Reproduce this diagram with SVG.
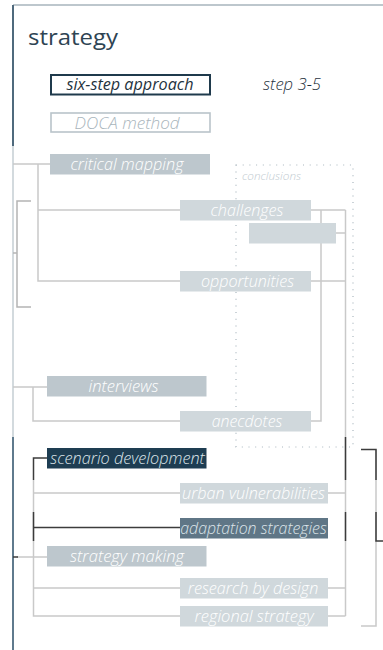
<svg xmlns="http://www.w3.org/2000/svg" width="383" height="650" viewBox="0 0 383 650">
  <style>
    text { font-family: "Open Sans", "Noto Sans", "DejaVu Sans", sans-serif; font-style: italic; font-weight: 300; }
    .title { font-style: normal; font-size: 22px; fill: #2e4453; font-weight: 400; }
    .lbl { font-size: 16px; fill: #ffffff; text-anchor: middle; }
    .lbl-dark { font-size: 16px; fill: #1f3340; text-anchor: middle; font-weight: 400; }
    .lbl-muted { font-size: 16px; fill: #a9b5bc; text-anchor: middle; }
    .lbl-navy { font-size: 16px; fill: #dde5ea; text-anchor: middle; }
    .note { font-size: 11.5px; fill: #c2cbd1; }
    .box-a { fill: #bdc7cd; }
    .box-b { fill: #d0d8dc; }
    .ln { fill: none; stroke: #c9c9c9; stroke-width: 1.5; }
    .ln-mid { fill: none; stroke: #b4b4b4; stroke-width: 1.5; }
    .ln-dark { fill: none; stroke: #3c3c3c; stroke-width: 1.5; }
    .dots { fill: none; stroke: #a9b6be; stroke-width: 1.2; stroke-dasharray: 1 5.7; }
  </style>

  <!-- page frame -->
  <g id="frame">
    <line x1="13" y1="5" x2="383" y2="5" stroke="#7d909c" stroke-width="1.2"/>
    <line x1="13" y1="5" x2="13" y2="146" stroke="#4f6a7d" stroke-width="2"/>
    <line x1="13" y1="146" x2="13" y2="437" stroke="#d3dade" stroke-width="2"/>
    <line x1="13" y1="437" x2="13" y2="650" stroke="#5f7a8d" stroke-width="2"/>
  </g>

  <text class="title" x="28" y="45" textLength="90" lengthAdjust="spacingAndGlyphs">strategy</text>

  <!-- header items -->
  <g id="six-step-approach">
    <rect x="51" y="75" width="159" height="19.5" fill="none" stroke="#1f3a4c" stroke-width="2"/>
    <text class="lbl-dark" x="130" y="89.5" textLength="127" lengthAdjust="spacingAndGlyphs">six-step approach</text>
  </g>
  <g id="step-label">
    <text x="263" y="89.5" font-size="16" font-weight="400" fill="#1f3340" textLength="58" lengthAdjust="spacingAndGlyphs">step 3-5</text>
  </g>
  <g id="doca-method">
    <rect x="51" y="113" width="159" height="19" fill="none" stroke="#b9c4ca" stroke-width="1.6"/>
    <text class="lbl-muted" x="127" y="128.5" textLength="105" lengthAdjust="spacingAndGlyphs">DOCA method</text>
  </g>

  <!-- conclusions zone -->
  <g id="conclusions">
    <path class="dots" d="M236 165 H353 V447 H236 Z"/>
    <text class="note" x="242" y="180" textLength="59" lengthAdjust="spacingAndGlyphs">conclusions</text>
  </g>

  <!-- connectors -->
  <g id="connectors">
    <!-- critical mapping branch -->
    <path class="ln" d="M13 164 H50"/>
    <path class="ln" d="M38 164 V281 H180"/>
    <path class="ln" d="M38 210 H180"/>
    <path class="ln-mid" d="M31 201 H17 V307 H31"/>
    <path class="ln-mid" d="M13 253 H17"/>

    <!-- interviews branch -->
    <path class="ln" d="M13 387 H47"/>
    <path class="ln" d="M33 387 V421 H180"/>

    <!-- right collector for challenges / anecdotes -->
    <path class="ln" d="M311 210 H345.5"/>
    <path class="ln" d="M336 233 H345.5"/>
    <path class="ln" d="M311 281 H345.5"/>
    <path class="ln" d="M321 210 V421 H311"/>

    <!-- strategy making branch -->
    <path class="ln" d="M17 557 H47"/>
    <path class="ln-dark" d="M13 557 H18"/>
    <path class="ln" d="M33.5 480 V616 H180"/>
    <path class="ln" d="M33.5 493 H180"/>
    <path class="ln" d="M33.5 588 H180"/>
    <path class="ln-dark" d="M47 458 H33.5 V480"/>
    <path class="ln-dark" d="M33.5 512 V541"/>
    <path class="ln-dark" d="M33.5 527.5 H180"/>

    <!-- right collector, lower part -->
    <path class="ln" d="M345.5 210 V616"/>
    <path class="ln-dark" d="M345.5 437 V480"/>
    <path class="ln-dark" d="M345.5 512 V541"/>
    <path class="ln" d="M328 493 H345.5"/>
    <path class="ln" d="M328 588 H345.5"/>
    <path class="ln" d="M328 616 H345.5"/>

    <!-- outer right bracket -->
    <path class="ln" d="M376 449.5 V626 H361"/>
    <path class="ln-dark" d="M361 449.5 H376 V480"/>
    <path class="ln-dark" d="M376 512 V541 H383"/>
  </g>

  <!-- nodes -->
  <g id="critical-mapping">
    <rect class="box-a" x="50" y="154" width="160" height="20.5"/>
    <text class="lbl" x="127" y="169.5" textLength="113" lengthAdjust="spacingAndGlyphs">critical mapping</text>
  </g>
  <g id="challenges">
    <rect class="box-b" x="180" y="200" width="131" height="20.5"/>
    <rect class="box-b" x="249" y="223" width="87" height="20.5"/>
    <text class="lbl" x="247" y="215.5" textLength="73" lengthAdjust="spacingAndGlyphs">challenges</text>
  </g>
  <g id="opportunities">
    <rect class="box-b" x="180" y="271" width="131" height="20.5"/>
    <text class="lbl" x="247.5" y="286.5" textLength="93" lengthAdjust="spacingAndGlyphs">opportunities</text>
  </g>
  <g id="interviews">
    <rect class="box-a" x="47" y="376" width="159.5" height="20.5"/>
    <text class="lbl" x="123.5" y="391.5" textLength="70" lengthAdjust="spacingAndGlyphs">interviews</text>
  </g>
  <g id="anecdotes">
    <rect class="box-b" x="180" y="411" width="131" height="20.5"/>
    <text class="lbl" x="247" y="426.5" textLength="70.5" lengthAdjust="spacingAndGlyphs">anecdotes</text>
  </g>
  <g id="scenario-development">
    <rect x="47" y="448" width="159.5" height="20.5" fill="#1e3d52"/>
    <text class="lbl-navy" x="127.5" y="463.5" textLength="154.5" lengthAdjust="spacingAndGlyphs">scenario development</text>
  </g>
  <g id="urban-vulnerabilities">
    <rect class="box-b" x="180" y="483" width="148" height="20.5"/>
    <text class="lbl" x="253.5" y="498.5" textLength="143" lengthAdjust="spacingAndGlyphs">urban vulnerabilities</text>
  </g>
  <g id="adaptation-strategies">
    <rect x="180" y="518" width="148" height="20.5" fill="#5f7686"/>
    <text class="lbl-navy" x="253.5" y="533.5" textLength="146.5" lengthAdjust="spacingAndGlyphs">adaptation strategies</text>
  </g>
  <g id="strategy-making">
    <rect class="box-a" x="47" y="546" width="159.5" height="20.5"/>
    <text class="lbl" x="127" y="561.5" textLength="114" lengthAdjust="spacingAndGlyphs">strategy making</text>
  </g>
  <g id="research-by-design">
    <rect class="box-b" x="180" y="578" width="148" height="20.5"/>
    <text class="lbl" x="253" y="593.5" textLength="130.5" lengthAdjust="spacingAndGlyphs">research by design</text>
  </g>
  <g id="regional-strategy">
    <rect class="box-b" x="180" y="606" width="148" height="20.5"/>
    <text class="lbl" x="254" y="621.5" textLength="119" lengthAdjust="spacingAndGlyphs">regional strategy</text>
  </g>
</svg>
